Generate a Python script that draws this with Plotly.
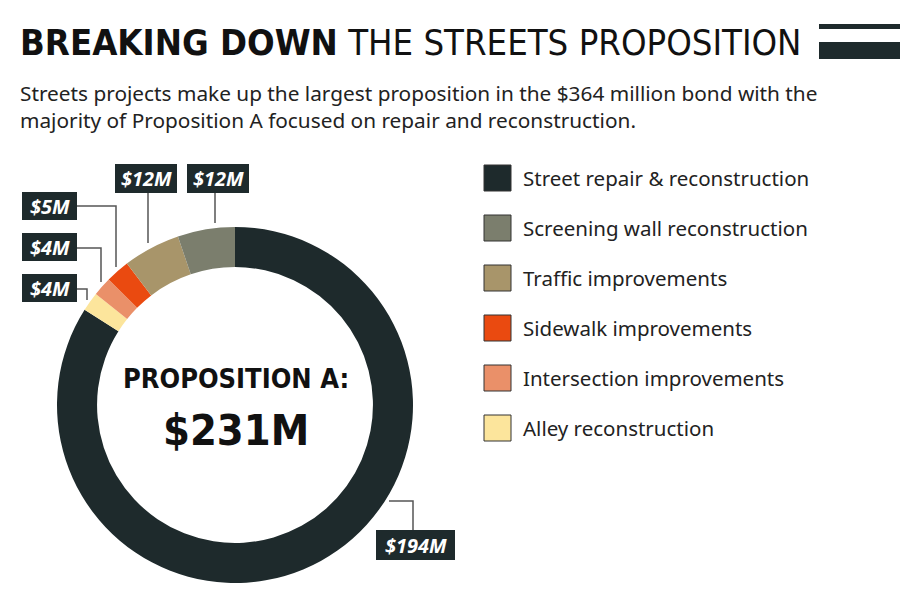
import plotly.graph_objects as go

# Data (legend order)
categories = ['Street repair & reconstruction', 'Screening wall reconstruction',
              'Traffic improvements', 'Sidewalk improvements',
              'Intersection improvements', 'Alley reconstruction']
values = [194, 12, 12, 5, 4, 4]
colors = ['#1e2a2c', '#7b7e6d', '#a8956a', '#ea4a10', '#ea9069', '#fce59c']
total = sum(values)

# ring goes clockwise from 12 o'clock: street repair first, then the small ones in reverse
ring_order = [0, 5, 4, 3, 2, 1]

W, H = 900, 612
DARK = '#1e2a2c'
COND = 'DejaVu Sans Condensed, Roboto, sans-serif'


def px(x):
    return x / W


def py(y):
    return 1 - y / H


fig = go.Figure(go.Pie(
    labels=[categories[i] for i in ring_order],
    values=[values[i] for i in ring_order],
    marker=dict(colors=[colors[i] for i in ring_order], line=dict(width=0)),
    hole=0.775,
    sort=False,
    direction='clockwise',
    textinfo='none',
    hoverinfo='label+value',
    showlegend=False,
    domain=dict(x=[px(57), px(413)], y=[py(583), py(227)]),
))

shapes = []
annotations = []

# title bars on the right
shapes.append(dict(type='rect', xref='paper', yref='paper', x0=px(819), x1=px(900),
                   y0=py(29), y1=py(24), fillcolor=DARK, line_width=0))
shapes.append(dict(type='rect', xref='paper', yref='paper', x0=px(819), x1=px(900),
                   y0=py(59), y1=py(42), fillcolor=DARK, line_width=0))

annotations.append(dict(
    text='<b>BREAKING DOWN</b> THE STREETS PROPOSITION',
    x=px(18), y=py(43), xref='paper', yref='paper', xanchor='left', yanchor='middle',
    showarrow=False, font=dict(family=COND, size=36.2, color='#111111')))

annotations.append(dict(
    text='Streets projects make up the largest proposition in the $364 million bond with the'
         '<br>majority of Proposition A focused on repair and reconstruction.',
    x=px(18), y=py(106), xref='paper', yref='paper', xanchor='left', yanchor='middle',
    align='left', showarrow=False,
    font=dict(family='Noto Sans', size=20.8, color='#222222')))

# center text
annotations.append(dict(
    text='<b>PROPOSITION A:</b>', x=px(236), y=py(378), xref='paper', yref='paper',
    xanchor='center', yanchor='middle', showarrow=False,
    font=dict(family=COND, size=27, color='#111111')))
annotations.append(dict(
    text='<b>$%dM</b>' % total, x=px(236), y=py(430), xref='paper', yref='paper',
    xanchor='center', yanchor='middle', showarrow=False,
    font=dict(family=COND, size=43, color='#111111')))

# legend
for k, (name, col) in enumerate(zip(categories, colors)):
    cy = 178 + 50 * k
    shapes.append(dict(type='rect', xref='paper', yref='paper', x0=px(484), x1=px(511),
                       y0=py(cy + 13), y1=py(cy - 13), fillcolor=col,
                       line=dict(color='#333333', width=1)))
    annotations.append(dict(
        text=name, x=px(521), y=py(cy), xref='paper', yref='paper',
        xanchor='left', yanchor='middle', showarrow=False,
        font=dict(family='Noto Sans', size=20.5, color='#222222')))

# value labels: box (x0, x1, y0, y1) and leader line points, keyed by legend index
label_boxes = {
    3: ((22, 77, 192, 220), [(77, 206), (116, 206), (116, 267)]),
    4: ((22, 77, 233, 261), [(77, 248), (101, 248), (101, 282)]),
    5: ((22, 77, 274, 302), [(77, 289), (87, 289), (87, 300)]),
    2: ((115, 177, 164, 193), [(148, 193), (148, 243)]),
    1: ((187, 249, 164, 193), [(215, 193), (215, 223)]),
    0: ((376, 455, 530, 560), [(389, 501), (413, 501), (413, 530)]),
}
for idx, ((x0, x1, y0, y1), pts) in label_boxes.items():
    path = 'M ' + ' L '.join('%f,%f' % (px(a), py(b)) for a, b in pts)
    shapes.append(dict(type='path', xref='paper', yref='paper', path=path,
                       line=dict(color='#555555', width=1.5)))
    shapes.append(dict(type='rect', xref='paper', yref='paper', x0=px(x0), x1=px(x1),
                       y0=py(y1), y1=py(y0), fillcolor=DARK, line_width=0))
    annotations.append(dict(
        text='<b><i>$%dM</i></b>' % values[idx], x=px((x0 + x1) / 2), y=py((y0 + y1) / 2),
        xref='paper', yref='paper', xanchor='center', yanchor='middle', showarrow=False,
        font=dict(family='Noto Sans', size=20, color='white')))

fig.update_layout(
    width=W, height=H,
    margin=dict(l=0, r=0, t=0, b=0),
    paper_bgcolor='white', plot_bgcolor='white',
    shapes=shapes, annotations=annotations,
)

fig.write_html("out.html", config={'displayModeBar': False},
               post_script="document.body.style.margin='0';")
